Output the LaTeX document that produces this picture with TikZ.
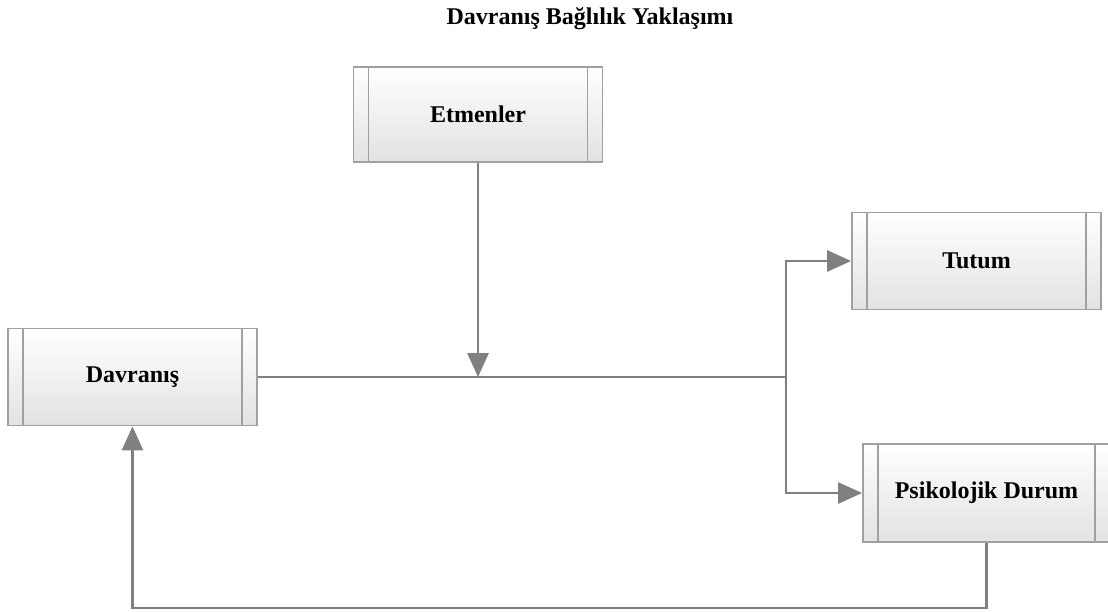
\documentclass[tikz,border=0pt]{standalone}
\usepackage{fontspec}
\setmainfont{Liberation Serif}
\usetikzlibrary{arrows.meta}
\definecolor{linegray}{RGB}{128,128,128}
\definecolor{boxborder}{RGB}{160,160,160}
\definecolor{boxbottom}{RGB}{226,226,226}
\tikzset{
  procbox/.style={draw=boxborder, line width=1.8pt, rectangle, inner sep=0pt,
    minimum width=249pt, minimum height=97pt,
    top color=white, bottom color=boxbottom,
    font=\bfseries\fontsize{24}{28}\selectfont,
    path picture={
      \draw[boxborder, line width=1.8pt]
        ([xshift=15pt]path picture bounding box.north west) -- ([xshift=15pt]path picture bounding box.south west)
        ([xshift=-15pt]path picture bounding box.north east) -- ([xshift=-15pt]path picture bounding box.south east);
    }},
  conn/.style={draw=linegray, line width=2.8pt},
  arr/.style={conn, -{Triangle[width=21pt,length=24pt]}},
  titletext/.style={font=\bfseries\fontsize{24}{28}\selectfont}
}
\begin{document}
\begin{tikzpicture}[x=1pt,y=-1pt]
\useasboundingbox (0,0) rectangle (1108,612);
\node[titletext] (title) at (590,19) {Davranış Bağlılık Yaklaşımı};
\node[procbox, minimum height=95pt] (etm) at (478,114.5) {Etmenler};
\node[procbox] (dav) at (132.5,377) {Davranış};
\node[procbox] (tut) at (976.5,261) {Tutum};
\node[procbox, minimum width=247pt, minimum height=98pt] (psi) at (986.5,493) {Psikolojik Durum};
\coordinate (j) at (786,377);
\coordinate (fb) at (132.5,608);
\draw[conn] (dav.east) -- (j);
\draw[arr] (etm.south) -- (etm.south |- j);
\draw[arr] (j) |- (tut.west);
\draw[arr] (j) |- (psi.west);
\draw[arr] (psi.south) |- (fb) -- (dav.south);
\end{tikzpicture}
\end{document}
